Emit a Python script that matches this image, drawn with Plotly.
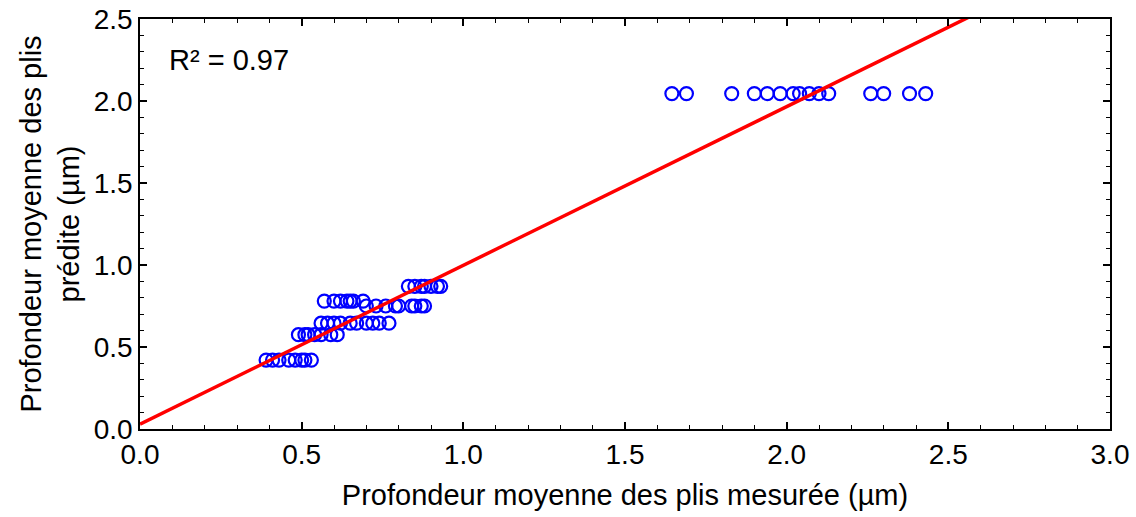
import plotly.graph_objects as go

# measured vs predicted depth, one list per predicted level
row_042_x = [0.39, 0.41, 0.43, 0.46, 0.48, 0.50, 0.51, 0.53]
row_058_x = [0.49, 0.51, 0.52, 0.54, 0.56, 0.59, 0.61]
row_065_x = [0.56, 0.58, 0.60, 0.62, 0.65, 0.67, 0.70, 0.72, 0.74, 0.77]
row_075_x = [0.70, 0.73, 0.76, 0.79, 0.80, 0.84, 0.85, 0.87, 0.88]
row_078_x = [0.57, 0.60, 0.62, 0.64, 0.65, 0.66, 0.69]
row_087_x = [0.83, 0.85, 0.87, 0.88, 0.90, 0.92, 0.93]
row_205_x = [1.645, 1.69, 1.83, 1.90, 1.94, 1.98, 2.02, 2.04, 2.07, 2.10,
             2.13, 2.26, 2.30, 2.38, 2.43]

rows = [(0.42, row_042_x), (0.575, row_058_x), (0.645, row_065_x),
        (0.75, row_075_x), (0.78, row_078_x), (0.87, row_087_x),
        (2.045, row_205_x)]

measured = []
predicted = []
for yv, xs in rows:
    measured += xs
    predicted += [yv] * len(xs)

fit_intercept = 0.03
fit_slope = 0.968
fit_x = [0.0, 3.0]
fit_y = [fit_intercept + fit_slope * v for v in fit_x]

font = "Liberation Sans, Arial, sans-serif"
fsize = 28
tsize = 29

fig = go.Figure()

fig.add_trace(go.Scatter(
    x=measured, y=predicted,
    mode='markers',
    marker=dict(symbol='circle-open', size=13, color='#0000ff',
                line=dict(width=2.2, color='#0000ff')),
    showlegend=False,
))

fig.add_trace(go.Scatter(
    x=fit_x, y=fit_y,
    mode='lines',
    line=dict(color='#ff0000', width=3.5),
    showlegend=False,
))

axis_common = dict(
    showline=True, linecolor='black', linewidth=1.5, mirror='allticks',
    ticks='inside', ticklen=7, tickwidth=1.5, tickcolor='black',
    showgrid=False, zeroline=False, automargin=False,
    tickfont=dict(family=font, size=fsize, color='black'),
    minor=dict(ticks='inside', ticklen=4, tickwidth=1, tickcolor='black', dtick=0.1),
)

fig.update_xaxes(
    range=[0, 3.0], dtick=0.5, tickformat='.1f',
    title=dict(text='Profondeur moyenne des plis mesurée (µm)',
               font=dict(family=font, size=tsize, color='black'), standoff=15),
    **axis_common,
)
fig.update_yaxes(
    range=[0, 2.5], dtick=0.5, tickformat='.1f',
    title=dict(text='Profondeur moyenne des plis<br>prédite (µm)',
               font=dict(family=font, size=tsize, color='black'), standoff=6),
    **axis_common,
)

fig.add_annotation(
    text='R² = 0.97', xref='paper', yref='paper',
    x=0.028, y=0.9, xanchor='left', yanchor='middle', showarrow=False,
    font=dict(family=font, size=tsize, color='black'),
)

fig.update_layout(
    width=1136, height=517,
    margin=dict(l=140, r=26, t=19, b=88),
    plot_bgcolor='white', paper_bgcolor='white',
    font=dict(family=font, color='black'),
)

# drop the default body margin so the figure sits at the page corner
fig.write_html("out.html", config={'displayModeBar': False},
               post_script="document.body.style.margin='0';")
